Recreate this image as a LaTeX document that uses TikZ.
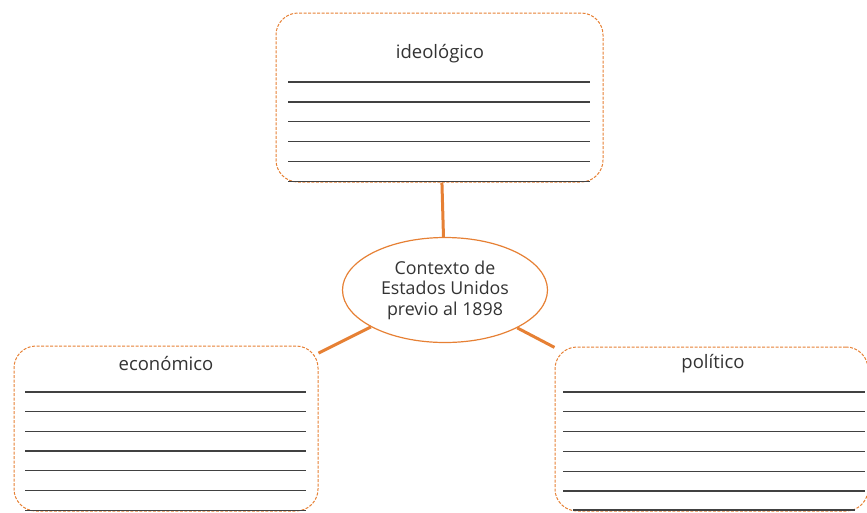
\documentclass[tikz,border=0pt]{standalone}
\usepackage{fontspec}
\setmainfont{Open Sans}
\usetikzlibrary{shapes.geometric}
\definecolor{naranja}{RGB}{230,128,52}
\definecolor{renglongris}{RGB}{65,65,65}
\tikzset{
  caja/.style={draw=naranja,line width=1pt,dash pattern=on 3pt off 1.5pt,
    rounded corners=22pt,inner sep=0pt},
  centro/.style={draw=naranja,line width=1.2pt,ellipse,inner sep=0pt,
    minimum width=205pt,minimum height=105pt,align=center,
    font=\fontsize{17.8}{20.5}\selectfont,text=black!80},
  titulo/.style={font=\fontsize{18.5}{20}\selectfont,text=black!80},
  renglon/.style={draw=renglongris,line width=1.3pt},
  enlace/.style={draw=naranja,line width=3pt}
}
\begin{document}
\begin{tikzpicture}[x=1pt,y=-1pt]
   \useasboundingbox (0,0) rectangle (867,512);
   \clip (0,0) rectangle (867,512);

   % cajas
   \node[caja,minimum width=327pt,minimum height=169pt] (ideo) at (439.5,97.5) {};
   \node[caja,minimum width=304pt,minimum height=165pt] (econ) at (166,428.5) {};
   \node[caja,minimum width=313pt,minimum height=164pt] (poli) at (711.5,429) {};
   \node[centro] (ctx) at (445,290) {Contexto de\\Estados Unidos\\previo al 1898};

   % titulos
   \node[titulo] (tideo) at (440,54) {ideológico};
   \node[titulo] (tecon) at (166,363) {económico};
   \node[titulo] (tpoli) at (713,364) {político};

   % renglones
   \foreach \i in {0,...,5}
     \draw[renglon] (288,82+19.9*\i) -- (590,82+19.9*\i);
   \foreach \i in {0,...,6}
     \draw[renglon] (25,392+19.7*\i) -- (306,392+19.7*\i);
   \foreach \i in {0,...,5}
     \draw[renglon] (563,392+19.8*\i) -- (865,392+19.8*\i);
   \draw[renglon] (573,510) -- (855,510);

   % enlaces
   \draw[enlace] (ctx) -- (ideo);
   \draw[enlace] (ctx) -- (econ);
   \draw[enlace] (ctx) -- (poli);

\end{tikzpicture}
\end{document}
